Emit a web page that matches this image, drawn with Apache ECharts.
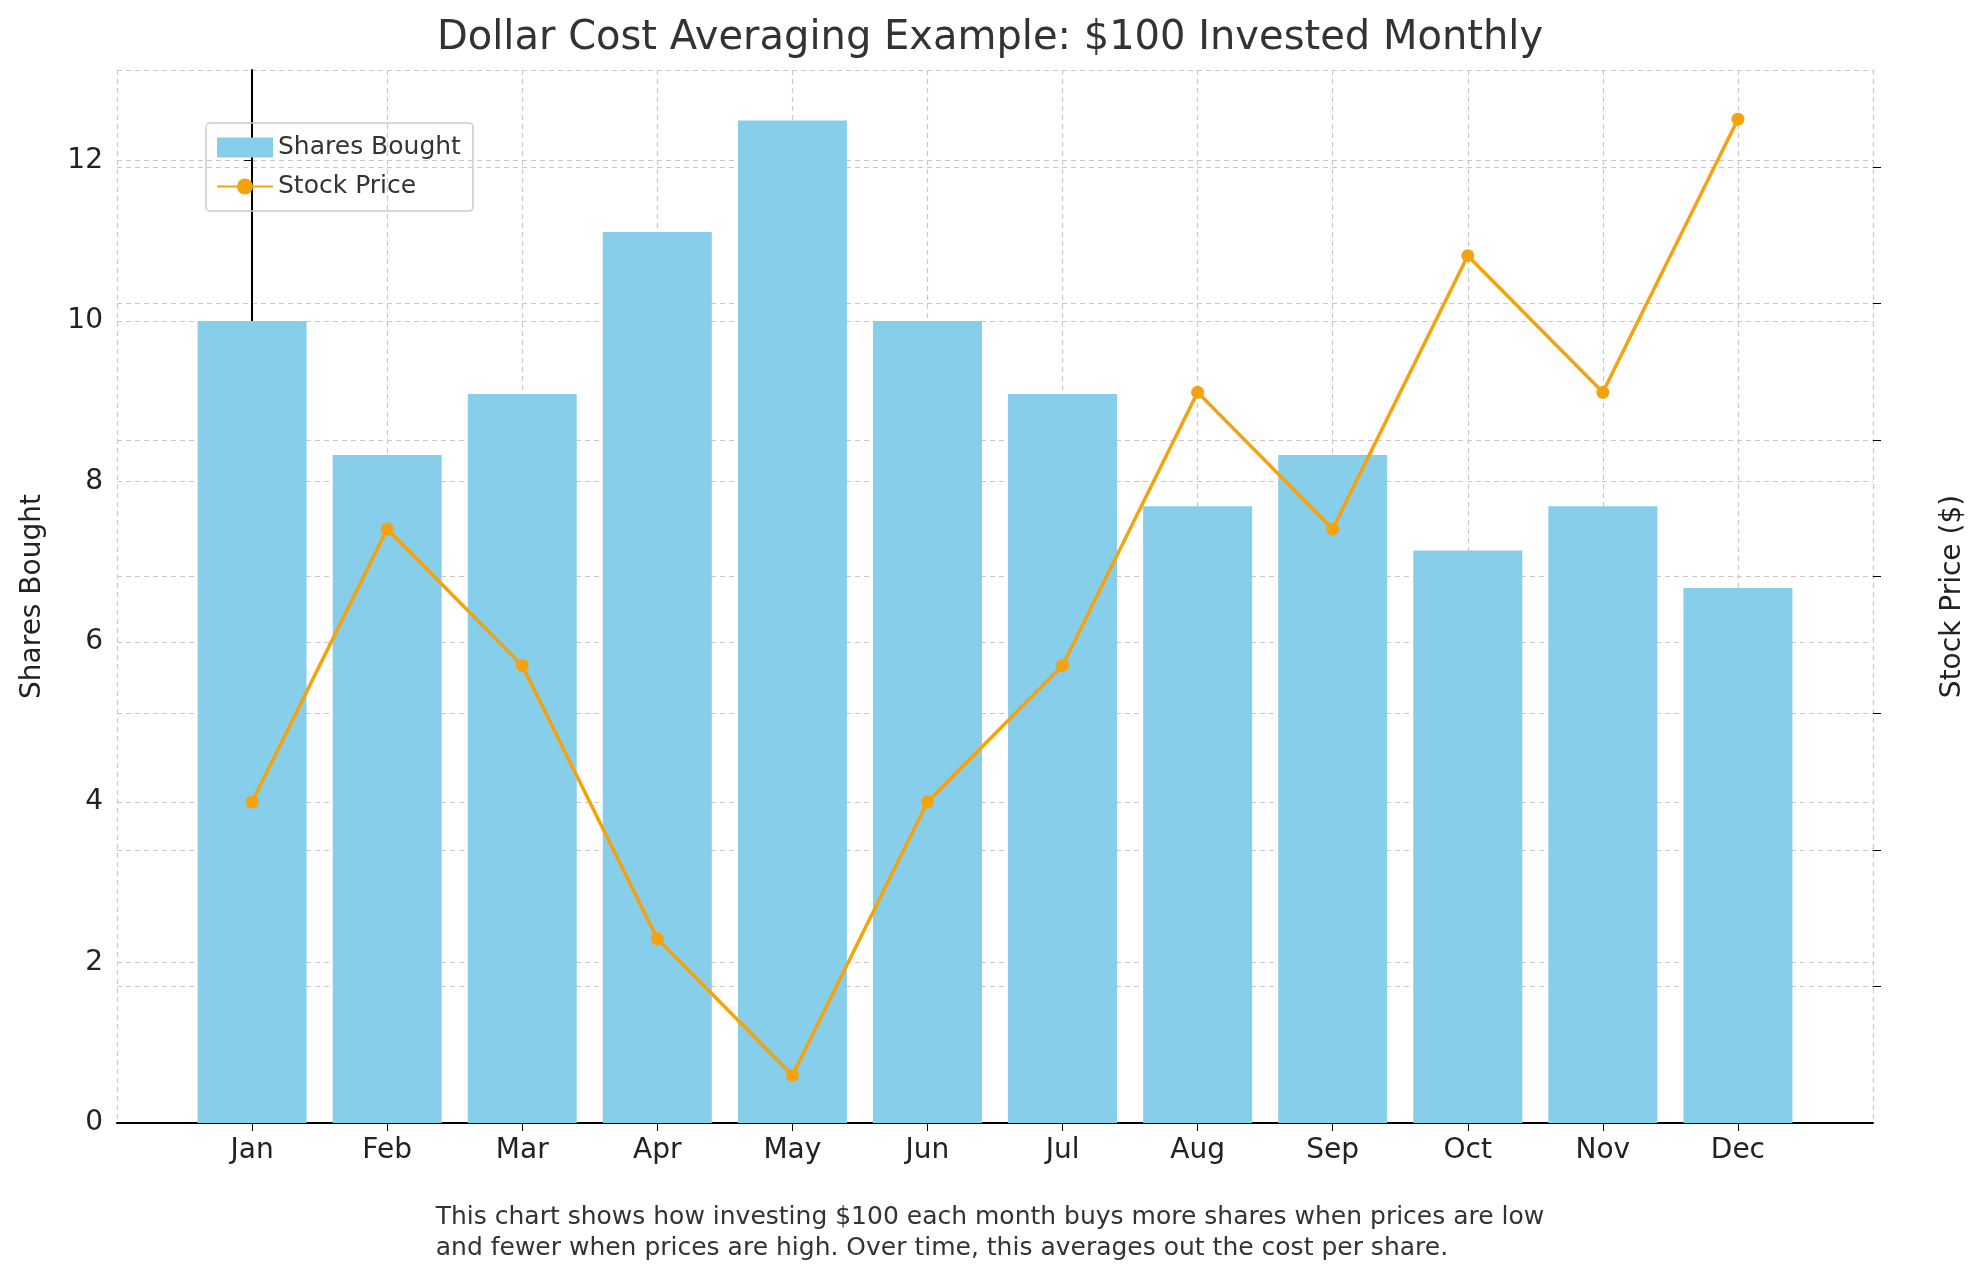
<!DOCTYPE html>
<html><head><meta charset="utf-8">
<script src="https://cdn.jsdelivr.net/npm/echarts@6/dist/echarts.min.js"></script>
<style>html,body{margin:0;padding:0;background:#fff}#c{width:1980px;height:1280px}</style>
</head><body><div id="c"></div>
<script>
const months = ['Jan','Feb','Mar','Apr','May','Jun','Jul','Aug','Sep','Oct','Nov','Dec'];
const sharesBought = [10, 8.33, 9.09, 11.11, 12.5, 10, 9.09, 7.69, 8.33, 7.14, 7.69, 6.67];
const stockPrice = [10, 12, 11, 9, 8, 10, 11, 13, 12, 14, 13, 15];
const leftTicks = [0,2,4,6,8,10,12];
const rightTicks = [8,9,10,11,12,13,14,15];

const font = 'DejaVu Sans';
const chart = echarts.init(document.getElementById('c'));
const dash = {show:true, lineStyle:{color:'#c8c8c8', type:[5,4], width:1.2}};
chart.setOption({
  animation:false,
  textStyle:{fontFamily:font},
  title:{text:'Dollar Cost Averaging Example: $100 Invested Monthly', left:'center', top:14,
    textStyle:{fontSize:40, fontWeight:'normal', color:'#333', fontFamily:font}},
  graphic:[{type:'text', left:'center', top:1202, style:{
    text:'This chart shows how investing $100 each month buys more shares when prices are low\nand fewer when prices are high. Over time, this averages out the cost per share.',
    fontSize:25, fill:'#333', align:'center', lineHeight:31, fontFamily:font}}],
  legend:{left:206, top:123, orient:'vertical', itemGap:14, itemWidth:56, itemHeight:20,
    padding:[12,12,12,10], borderColor:'#ccc', borderWidth:1.5, borderRadius:4,
    textStyle:{fontSize:25, color:'#333', fontFamily:font},
    data:[{name:'Shares Bought', icon:'rect'}, {name:'Stock Price'}]},
  grid:{left:117, right:107, top:70, bottom:157},
  xAxis:{type:'value', min:-1, max:12, interval:1,
    axisLine:{show:true, lineStyle:{color:'#000', width:2}},
    axisTick:{show:true, length:8, lineStyle:{color:'#000'}},
    axisLabel:{fontSize:28, color:'#222', margin:14, showMinLabel:false, showMaxLabel:false,
      formatter:v=> months[v] || ''},
    splitLine:dash},
  yAxis:[
    {type:'value', min:0, max:13.13, interval:2, name:'Shares Bought', nameLocation:'middle', nameGap:70,
     nameTextStyle:{fontSize:28, color:'#222'},
     axisLine:{show:true, lineStyle:{color:'#000', width:2}},
     axisTick:{show:true, length:8, lineStyle:{color:'#000'}},
     axisLabel:{fontSize:28, color:'#222', margin:14, showMaxLabel:false, formatter:v=> leftTicks.includes(v)? String(v):''},
     splitLine:dash},
    {type:'value', min:7.65, max:15.36, interval:1, name:'Stock Price ($)', nameLocation:'middle', nameGap:66, nameRotate:90,
     nameTextStyle:{fontSize:28, color:'#222'},
     axisLine:{show:false},
     axisTick:{show:true, length:8, lineStyle:{color:'#000'}},
     axisLabel:{fontSize:28, color:'#222', margin:14, showMinLabel:false, showMaxLabel:false,
       formatter:v=> rightTicks.includes(Math.round(v*100)/100)? String(Math.round(v)):''},
     splitLine:dash}
  ],
  series:[
    {name:'Shares Bought', type:'bar', barWidth:109, itemStyle:{color:'#87CEEB'},
     data: sharesBought.map((v,i)=>[i,v])},
    {name:'Stock Price', type:'line', yAxisIndex:1, symbol:'circle', symbolSize:13,
     lineStyle:{color:'#F4A30E', width:3.5}, itemStyle:{color:'#F4A30E'},
     data: stockPrice.map((v,i)=>[i,v])}
  ]
});
</script></body></html>
